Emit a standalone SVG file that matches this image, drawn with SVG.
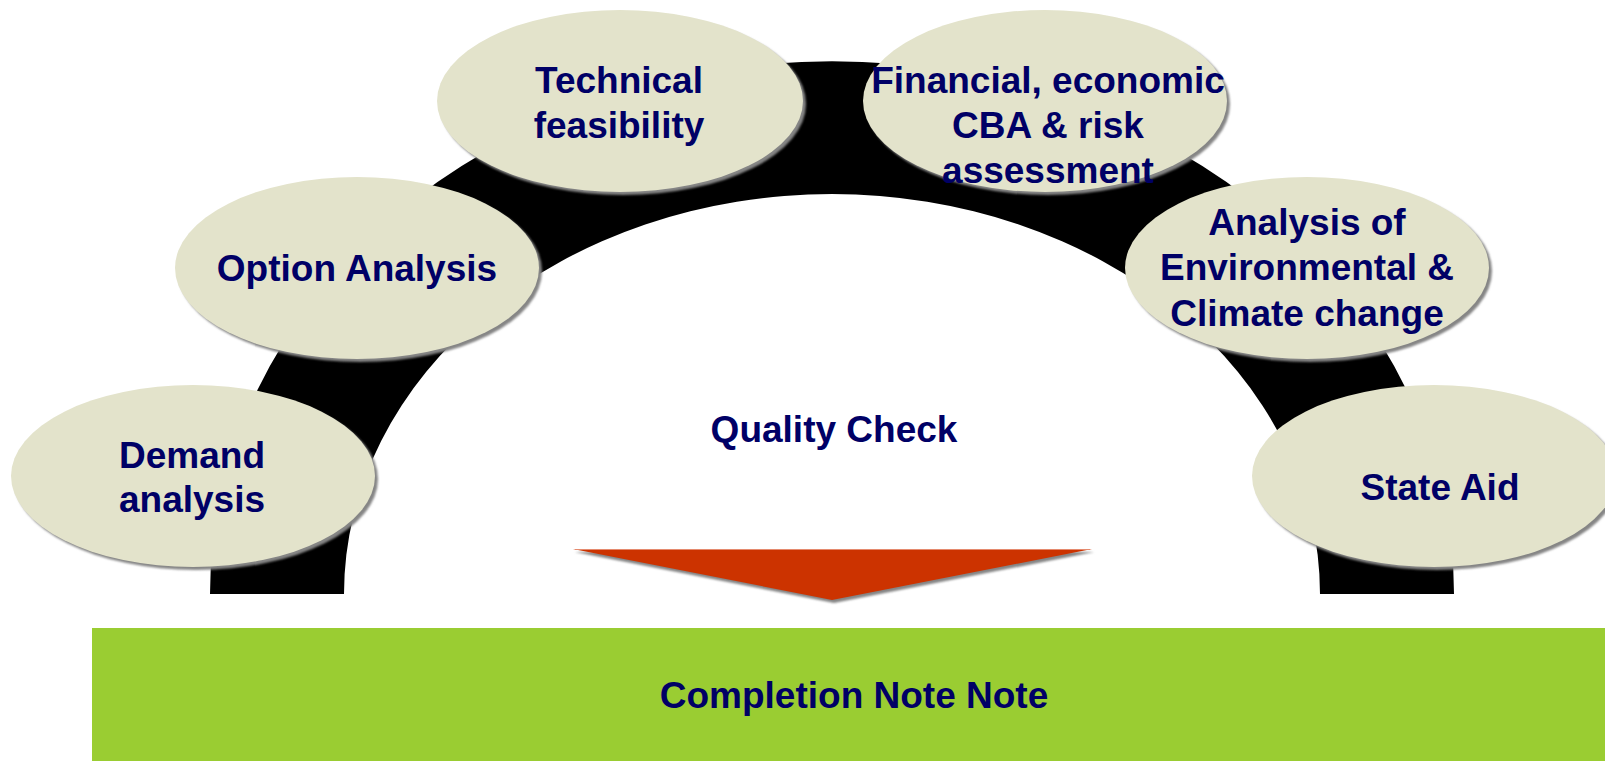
<svg xmlns="http://www.w3.org/2000/svg" width="1605" height="761" viewBox="0 0 1605 761">
  <style>
    .lbl { font-family: "Liberation Sans", Arial, sans-serif; font-weight: bold; font-size: 37px; fill: #000066; text-anchor: middle; }
    .ell { fill: #E3E3CB; }
    .shd { fill: #858585; }
  </style>
  <defs>
    <filter id="soft" x="-5%" y="-5%" width="110%" height="110%">
      <feGaussianBlur stdDeviation="0.8"/>
    </filter>
  </defs>
  <rect width="1605" height="761" fill="#ffffff"/>

  <g id="arch">
    <path d="M 210 594 A 622 533 0 0 1 1454 594 L 1320 594 A 488 400 0 0 0 344 594 Z" fill="#000000"/>
  </g>

  <g id="quality-check">
    <text class="lbl" x="834" y="442">Quality Check</text>
  </g>

  <g id="arrow">
    <polygon points="575,552 1094,552 834,603" fill="#858585" filter="url(#soft)"/>
    <polygon points="573,549 1092,549 832,600" fill="#CC3300"/>
    <line x1="575" y1="549.5" x2="1090" y2="549.5" stroke="#E58A6E" stroke-width="1"/>
  </g>

  <g id="node-demand">
    <ellipse class="shd" cx="196" cy="479" rx="182" ry="91" filter="url(#soft)"/>
    <ellipse class="ell" cx="193" cy="476" rx="182" ry="91"/>
    <text class="lbl" x="192" y="468">Demand</text>
    <text class="lbl" x="192" y="512">analysis</text>
  </g>

  <g id="node-option">
    <ellipse class="shd" cx="360" cy="271" rx="182" ry="91" filter="url(#soft)"/>
    <ellipse class="ell" cx="357" cy="268" rx="182" ry="91"/>
    <text class="lbl" x="357" y="281">Option Analysis</text>
  </g>

  <g id="node-technical">
    <ellipse class="shd" cx="623" cy="104" rx="183" ry="91" filter="url(#soft)"/>
    <ellipse class="ell" cx="620" cy="101" rx="183" ry="91"/>
    <text class="lbl" x="619" y="93">Technical</text>
    <text class="lbl" x="619" y="138">feasibility</text>
  </g>

  <g id="node-financial">
    <ellipse class="shd" cx="1048" cy="104" rx="182" ry="91" filter="url(#soft)"/>
    <ellipse class="ell" cx="1045" cy="101" rx="182" ry="91"/>
    <text class="lbl" x="1048" y="93">Financial, economic</text>
    <text class="lbl" x="1048" y="138">CBA &amp; risk</text>
    <text class="lbl" x="1048" y="183">assessment</text>
  </g>

  <g id="node-environment">
    <ellipse class="shd" cx="1310" cy="271" rx="182" ry="91" filter="url(#soft)"/>
    <ellipse class="ell" cx="1307" cy="268" rx="182" ry="91"/>
    <text class="lbl" x="1307" y="235">Analysis of</text>
    <text class="lbl" x="1307" y="280">Environmental &amp;</text>
    <text class="lbl" x="1307" y="326">Climate change</text>
  </g>

  <g id="node-stateaid">
    <ellipse class="shd" cx="1437" cy="479" rx="182" ry="91" filter="url(#soft)"/>
    <ellipse class="ell" cx="1434" cy="476" rx="182" ry="91"/>
    <text class="lbl" x="1440" y="500">State Aid</text>
  </g>

  <g id="completion-note">
    <rect x="92" y="628" width="1513" height="133" fill="#9ACD32"/>
    <text class="lbl" x="854" y="708">Completion Note Note</text>
  </g>

  <g id="connectors"></g>
</svg>
